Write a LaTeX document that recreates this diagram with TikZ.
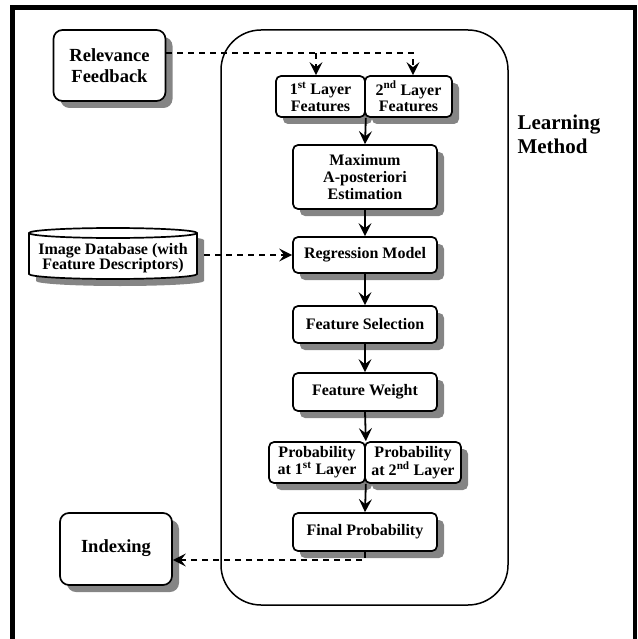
\documentclass[tikz,border=0pt]{standalone}
\usepackage{fontspec}
\setmainfont{Liberation Serif}
\usetikzlibrary{arrows.meta,shadows,calc}
\begin{document}
\begin{tikzpicture}[x=1pt,y=1pt,
  box/.style={draw, line width=1.7pt, rounded corners=5pt, fill=white, align=center, inner sep=0pt,
    font=\bfseries\fontsize{16}{16.8}\selectfont,
    drop shadow={shadow xshift=7pt, shadow yshift=-7pt, fill=black!48, opacity=1}},
  bigbox/.style={box, rounded corners=9pt, font=\bfseries\fontsize{18.5}{21}\selectfont},
  arr/.style={line width=1.8pt, -{Stealth[length=13pt,width=13pt,inset=5pt]}},
  dsh/.style={arr, dash pattern=on 6pt off 5pt},
  frame/.style={line width=4.5pt},
  cylpath/.style={line width=1.7pt},
]
\useasboundingbox (0,0) rectangle (637,-639);
% outer frame
\draw[frame] (12.5,-700) -- (12.5,-7.5) -- (635,-7.5) -- (635,-700);
% learning method container
\draw[line width=1.5pt, rounded corners=40pt] (221,-30) rectangle (508,-605);
\node[anchor=west, align=left, font=\bfseries\fontsize{21}{24}\selectfont] (lm) at (514,-134) {Learning\\Method};

% left boxes
\node[bigbox, minimum width=112pt, minimum height=71pt] (rf) at (109.5,-65.5) {Relevance\\Feedback};
\node[bigbox, minimum width=112pt, minimum height=72pt] (idx) at (116,-549) {\raisebox{6pt}{Indexing}};

% database cylinder
\begin{scope}[xshift=7pt, yshift=-7pt]
\fill[black!48] (29,-233) -- (29,-274) arc[start angle=180, end angle=360, x radius=84pt, y radius=5pt] -- (197,-233) arc[start angle=0, end angle=180, x radius=84pt, y radius=5pt] -- cycle;
\end{scope}
\draw[cylpath, fill=white] (29,-233) -- (29,-274) arc[start angle=180, end angle=360, x radius=84pt, y radius=5pt] -- (197,-233) arc[start angle=0, end angle=180, x radius=84pt, y radius=5pt] -- cycle;
\draw[cylpath] (29,-233) arc[start angle=180, end angle=360, x radius=84pt, y radius=5pt];
\node[align=center, inner sep=0pt, font=\bfseries\fontsize{16}{15.5}\selectfont] (db) at (113,-258) {Image Database (with\\Feature Descriptors)};
\coordinate (dbout) at (204,-255);

% inner boxes
\node[box, minimum width=89pt, minimum height=41pt] (l1) at (320.5,-96.5) {1\textsuperscript{st} Layer\\Features};
\node[box, minimum width=87pt, minimum height=41pt] (l2) at (408.5,-96.5) {2\textsuperscript{nd} Layer\\Features};
\node[box, minimum width=144pt, minimum height=64pt] (map) at (365,-177) {Maximum\\A-posteriori\\Estimation};
\node[box, minimum width=144pt, minimum height=36pt] (reg) at (365,-255) {Regression Model};
\node[box, minimum width=144pt, minimum height=37pt] (fs) at (365,-324.5) {Feature Selection};
\node[box, minimum width=144pt, minimum height=38pt] (fw) at (365,-392) {Feature Weight};
\node[box, minimum width=96pt, minimum height=41pt] (p1) at (317,-462.5) {Probability\\at 1\textsuperscript{st} Layer};
\node[box, minimum width=96pt, minimum height=41pt] (p2) at (413,-462.5) {Probability\\at 2\textsuperscript{nd} Layer};
\node[box, minimum width=144pt, minimum height=38pt] (fp) at (365,-532) {Final Probability};

% solid arrows
\draw[arr] (l1.south east) -- (map.north);
\draw[arr] (map.south) -- (reg.north);
\draw[arr] (reg.south) -- (fs.north);
\draw[arr] (fs.south) -- (fw.north);
\draw[arr] (fw.south) -- (p1.north east);
\draw[arr] (p1.south east) -- (fp.north);

% dashed arrows
\coordinate (rfout) at ([yshift=12.5pt]rf.east);
\draw[dsh] (rfout) -| ([xshift=4.5pt]l2.north);
\draw[dsh] ([xshift=-4.5pt]l1.north |- rfout) -- ([xshift=-4.5pt]l1.north);
\draw[dsh] (dbout) -- (reg.west);
\draw[dsh] (fp.south) |- ([yshift=-11pt]idx.east);
\end{tikzpicture}
\end{document}
